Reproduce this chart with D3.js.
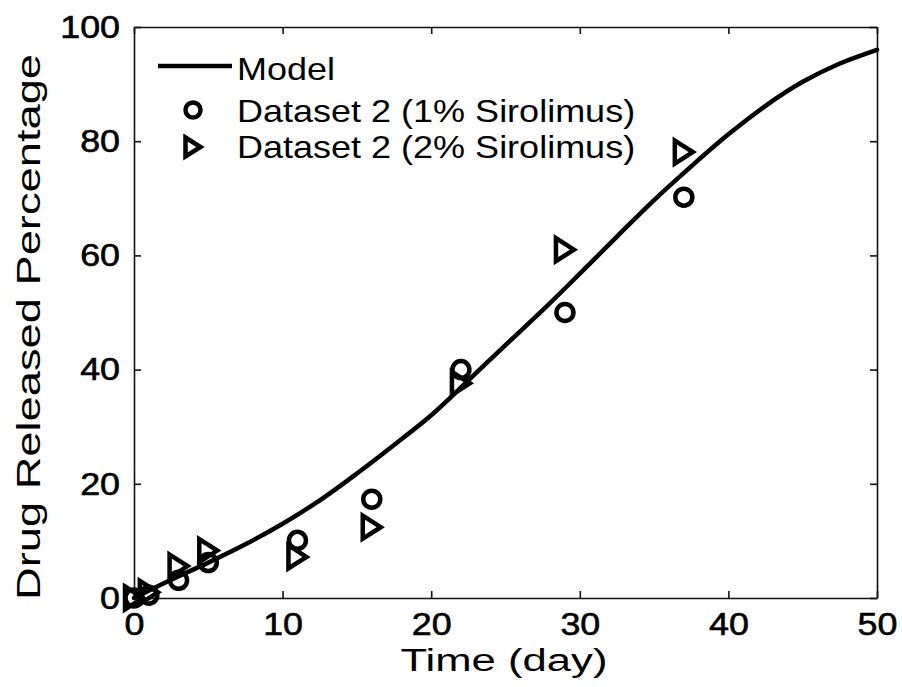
<!DOCTYPE html>
<html lang="en">
<head>
<meta charset="UTF-8">
<title>Drug release</title>
<script src="https://d3js.org/d3.v7.min.js"></script>
<style>
  html, body { margin: 0; padding: 0; background: #fff; }
  svg text { font-family: "Liberation Sans", Arial, Helvetica, sans-serif; fill: #000; }
</style>
</head>
<body>
<script>
// values
var days = [0, 1, 3, 5, 11, 16, 22, 29, 37];
var sirolimus1 = [0, 0.5, 3.1, 6.2, 10.1, 17.3, 40, 50, 70.2];
var sirolimus2 = [0, 1, 5.6, 8.3, 7.2, 12.4, 37.6, 61, 78.1];
var modelDays = [0, 2.5, 5, 7.5, 10, 12.5, 15, 17.5, 20, 22.5, 25, 27.5, 30, 32.5, 35, 37.5, 40, 42.5, 45, 47.5, 50];
var modelValues = [0, 3.2, 6.2, 9.4, 13, 17.1, 21.8, 26.8, 32, 38.1, 44.3, 50.4, 56.8, 63.3, 69.7, 75.6, 81.2, 86.2, 90.4, 93.6, 96];
var xTicks = [0, 10, 20, 30, 40, 50];
var yTicks = [0, 20, 40, 60, 80, 100];
var legendNames = ['Model', 'Dataset 2 (1% Sirolimus)', 'Dataset 2 (2% Sirolimus)'];

var W = 902, H = 687;
var plotL = 134, plotR = 877, plotT = 27, plotB = 598;

var svg = d3.select('body').append('svg')
    .attr('width', W)
    .attr('height', H);

var x = d3.scaleLinear().domain([0, 50]).range([plotL, plotR]);
var y = d3.scaleLinear().domain([0, 100]).range([plotB, plotT]);

// stretch text horizontally like the original export
function stretch(sel, factor) {
    sel.each(function() {
        var len = this.getComputedTextLength();
        d3.select(this).attr('textLength', len * factor).attr('lengthAdjust', 'spacingAndGlyphs');
    });
}

// box + inward ticks
var tickLen = 7;
svg.append('g').attr('transform', 'translate(0,' + plotB + ')')
    .call(d3.axisBottom(x).tickValues(xTicks).tickSizeInner(-tickLen).tickSizeOuter(0).tickPadding(14));
svg.append('g').attr('transform', 'translate(0,' + plotT + ')')
    .call(d3.axisTop(x).tickValues(xTicks).tickSizeInner(-tickLen).tickSizeOuter(0).tickFormat(''));
svg.append('g').attr('transform', 'translate(' + plotL + ',0)')
    .call(d3.axisLeft(y).tickValues(yTicks).tickSizeInner(-tickLen).tickSizeOuter(0).tickPadding(14));
svg.append('g').attr('transform', 'translate(' + plotR + ',0)')
    .call(d3.axisRight(y).tickValues(yTicks).tickSizeInner(-tickLen).tickSizeOuter(0).tickFormat(''));

svg.selectAll('.domain').attr('stroke', '#111').attr('stroke-width', 1.6);
svg.selectAll('.tick line').attr('stroke', '#111').attr('stroke-width', 1.6);
svg.selectAll('.tick text')
    .attr('font-size', 32)
    .attr('fill', '#000')
    .attr('stroke', '#000')
    .attr('stroke-width', 0.6)
    .style('font-family', '"Liberation Sans", Arial, sans-serif');
stretch(svg.selectAll('.tick text'), 1.12);

// model curve
var line = d3.line()
    .x(function(d, i) { return x(modelDays[i]); })
    .y(function(d) { return y(d); })
    .curve(d3.curveCatmullRom);

svg.append('path')
    .datum(modelValues)
    .attr('d', line)
    .attr('fill', 'none')
    .attr('stroke', '#000')
    .attr('stroke-width', 4.5)
    .attr('stroke-linecap', 'round');

// markers
var triPath = 'M-9,-11.5L9,0L-9,11.5Z';

svg.append('g').selectAll('circle')
    .data(sirolimus1)
    .enter().append('circle')
    .attr('cx', function(d, i) { return x(days[i]); })
    .attr('cy', function(d) { return y(d); })
    .attr('r', 8.5)
    .attr('fill', 'none')
    .attr('stroke', '#000')
    .attr('stroke-width', 4.5);

svg.append('g').selectAll('path')
    .data(sirolimus2)
    .enter().append('path')
    .attr('d', triPath)
    .attr('transform', function(d, i) { return 'translate(' + x(days[i]) + ',' + y(d) + ')'; })
    .attr('fill', 'none')
    .attr('stroke', '#000')
    .attr('stroke-width', 4.5)
    .attr('stroke-linejoin', 'miter');

// legend
var legend = svg.append('g');
legend.append('line')
    .attr('x1', 158).attr('x2', 232)
    .attr('y1', 66).attr('y2', 66)
    .attr('stroke', '#000').attr('stroke-width', 4.5);
legend.append('circle')
    .attr('cx', 193).attr('cy', 110).attr('r', 7.5)
    .attr('fill', 'none').attr('stroke', '#000').attr('stroke-width', 4.5);
legend.append('path')
    .attr('d', 'M-7.5,-9.5L7.5,0L-7.5,9.5Z')
    .attr('transform', 'translate(193,147)')
    .attr('fill', 'none').attr('stroke', '#000').attr('stroke-width', 4.5);

var legendBase = [80, 122, 158];
legend.selectAll('text')
    .data(legendNames)
    .enter().append('text')
    .attr('x', 237)
    .attr('y', function(d, i) { return legendBase[i]; })
    .attr('font-size', 32)
    .text(function(d) { return d; });
stretch(legend.selectAll('text'), 1.125);

// axis titles
svg.append('text')
    .attr('x', 504)
    .attr('y', 671)
    .attr('text-anchor', 'middle')
    .attr('font-size', 31)
    .attr('textLength', 207)
    .attr('lengthAdjust', 'spacingAndGlyphs')
    .text('Time (day)');

svg.append('text')
    .attr('transform', 'translate(40,327) rotate(-90)')
    .attr('text-anchor', 'middle')
    .attr('font-size', 33)
    .attr('textLength', 546)
    .attr('lengthAdjust', 'spacingAndGlyphs')
    .text('Drug Released Percentage');
</script>
</body>
</html>
